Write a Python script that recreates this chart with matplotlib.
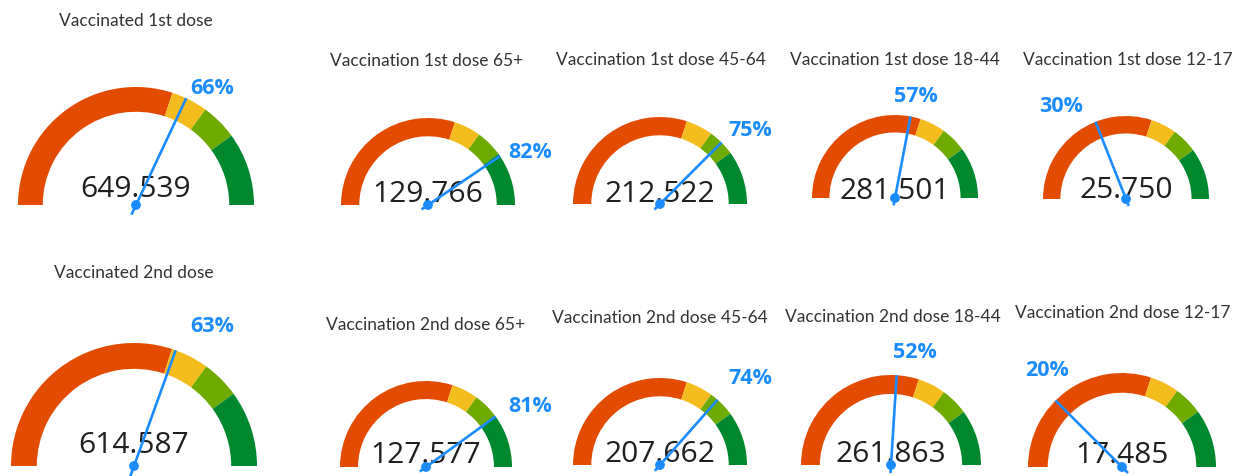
import matplotlib.pyplot as plt
from matplotlib.patches import Wedge, Circle
import numpy as np

# Data
titles = ["Vaccinated 1st dose", "Vaccination 1st dose 65+", "Vaccination 1st dose 45-64",
          "Vaccination 1st dose 18-44", "Vaccination 1st dose 12-17",
          "Vaccinated 2nd dose", "Vaccination 2nd dose 65+", "Vaccination 2nd dose 45-64",
          "Vaccination 2nd dose 18-44", "Vaccination 2nd dose 12-17"]
counts = [649539, 129766, 212522, 281501, 25750,
          614587, 127577, 207662, 261863, 17485]
pct_labels = [66, 82, 75, 57, 30, 63, 81, 74, 52, 20]
needle_pct = [64, 81, 75, 56, 38, 61, 80, 73, 52, 25]

# colour bands (percent of gauge)
band_edges = [0, 60, 70, 80, 100]
band_colors = ["#E34B00", "#F5BC1E", "#6EAA00", "#00882F"]
blue = "#1A8CFF"

# layout in pixels: cx, cy, R, title x/y, value baseline, label x/y
layout = [
    (136, 205, 118, 136, 21, 197, 212, 88),
    (428, 205, 87, 427, 61, 202, 530, 152),
    (660, 204, 87, 661, 60, 202, 750, 130),
    (895, 198, 83, 895, 60, 199, 916, 97),
    (1126, 199, 83, 1128, 60, 198, 1061, 107),
    (134, 466, 123, 134, 273, 453, 212, 327),
    (426, 467, 86, 426, 325, 463, 530, 407),
    (660, 465, 87, 660, 318, 462, 750, 378),
    (891, 465, 90, 893, 317, 462, 915, 353),
    (1122, 467, 94, 1123, 313, 463, 1047, 370),
]

W, H = 1241, 476
fig = plt.figure(figsize=(W / 100, H / 100), dpi=100)
ax = fig.add_axes([0, 0, 1, 1])
ax.set_xlim(0, W)
ax.set_ylim(H, 0)
ax.axis("off")

for i, (cx, cy, R, tx, ty, vb, lx, ly) in enumerate(layout):
    width = 0.21 * R
    # bands: visual angle a maps to data angle -a because y is inverted
    for lo, hi, col in zip(band_edges[:-1], band_edges[1:], band_colors):
        a1 = 180 * (1 - hi / 100)
        a2 = 180 * (1 - lo / 100)
        ax.add_patch(Wedge((cx, cy), R, -a2, -a1, width=width, color=col, lw=0))

    ax.text(tx, ty, titles[i], ha="center", va="center", fontsize=12.5,
            color="#333333", family="Lato")
    ax.text(cx, vb, f"{counts[i]:,}".replace(",", "."), ha="center", va="baseline",
            fontsize=21.5, color="#1f1f1f", family="Open Sans")

    a = np.radians(180 * (1 - needle_pct[i] / 100))
    tip = (cx + R * np.cos(a), cy - R * np.sin(a))
    tail = (cx - 0.09 * R * np.cos(a), cy + 0.09 * R * np.sin(a))
    ax.plot([tail[0], tip[0]], [tail[1], tip[1]], color=blue, lw=1.9,
            solid_capstyle="butt", zorder=5)
    ax.add_patch(Circle((cx, cy), 4.2, color=blue, zorder=6))

    ax.text(lx, ly, f"{pct_labels[i]}%", ha="center", va="center", fontsize=15.5,
            fontweight="bold", color=blue, family="Open Sans")

fig.savefig("out.png", dpi=100)
